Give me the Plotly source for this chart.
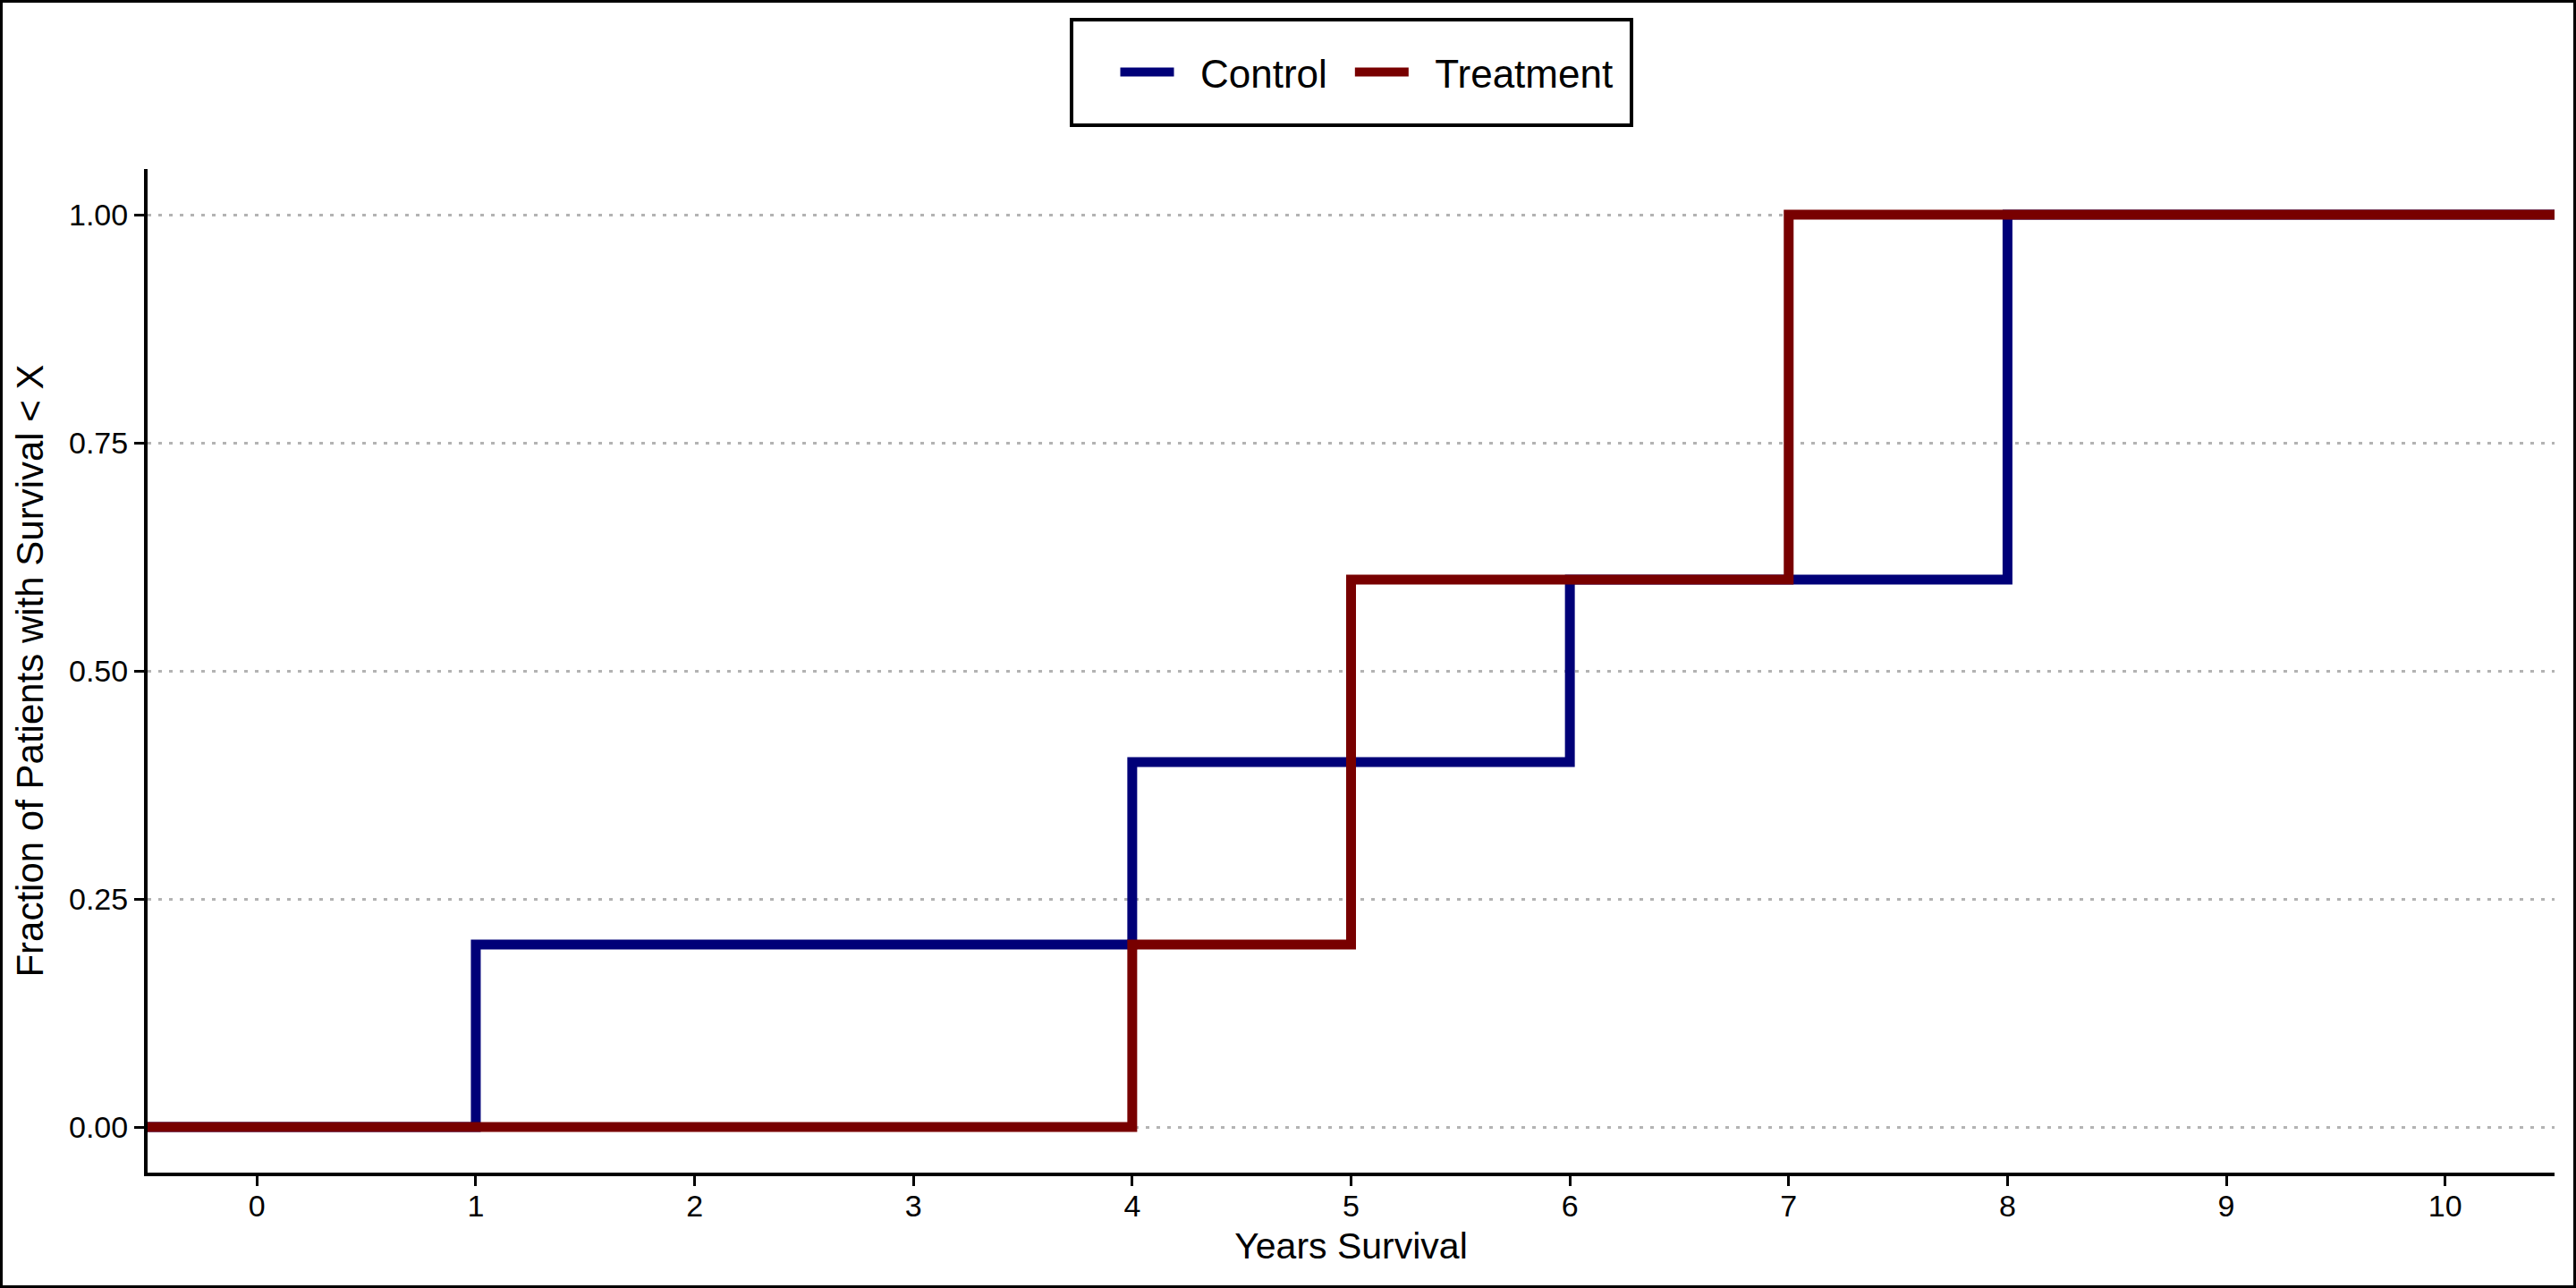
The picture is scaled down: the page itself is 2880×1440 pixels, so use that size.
import plotly.graph_objects as go

# ---- data ----
control_years = [-0.5, 1, 4, 6, 8, 10.5]
control_frac = [0.0, 0.2, 0.4, 0.6, 1.0, 1.0]
treatment_years = [-0.5, 4, 5, 7, 10.5]
treatment_frac = [0.0, 0.2, 0.6, 1.0, 1.0]
series_names = ["Control", "Treatment"]
x_ticks = list(range(0, 11))
y_ticks = [0.0, 0.25, 0.5, 0.75, 1.0]
y_tick_labels = ["0.00", "0.25", "0.50", "0.75", "1.00"]

W, H = 2880, 1440
ML, MR, MT, MB = 165, 24, 189, 129
PW, PH = W - ML - MR, H - MT - MB

FONT = "Liberation Sans, Arial, Helvetica, sans-serif"
BLUE = "#000078"
RED = "#780000"
NB = "\u00a0"

fig = go.Figure()
fig.add_trace(go.Scatter(x=control_years, y=control_frac, mode="lines",
                         line=dict(shape="hv", color=BLUE, width=11),
                         name=NB * 2 + series_names[0] + NB + "\u2009"))
fig.add_trace(go.Scatter(x=treatment_years, y=treatment_frac, mode="lines",
                         line=dict(shape="hv", color=RED, width=11),
                         name=NB * 2 + series_names[1]))

def px2paper_x(px):
    return (px - ML) / PW

def px2paper_y(py):
    return (H - MB - py) / PH

shapes = [
    # outer figure border
    dict(type="rect", xref="paper", yref="paper",
         x0=px2paper_x(1.5), x1=px2paper_x(W - 1.5),
         y0=px2paper_y(H - 1.5), y1=px2paper_y(1.5),
         line=dict(color="black", width=3), fillcolor="rgba(0,0,0,0)", layer="above"),
    # legend box
    dict(type="rect", xref="paper", yref="paper",
         x0=px2paper_x(1198), x1=px2paper_x(1824),
         y0=px2paper_y(140), y1=px2paper_y(22),
         line=dict(color="black", width=4), fillcolor="rgba(0,0,0,0)", layer="above"),
]

fig.update_layout(
    width=W, height=H,
    margin=dict(l=ML, r=MR, t=MT, b=MB),
    paper_bgcolor="white", plot_bgcolor="white",
    font=dict(family=FONT, color="black", size=33),
    showlegend=True,
    legend=dict(orientation="h", x=px2paper_x(1528), xanchor="center",
                y=px2paper_y(81), yanchor="middle",
                font=dict(size=44, family=FONT, color="black"),
                bgcolor="rgba(0,0,0,0)", borderwidth=0,
                itemwidth=60, traceorder="normal"),
    shapes=shapes,
    xaxis=dict(range=[-0.5, 10.5], tickvals=x_ticks, ticks="outside",
               ticklen=11, tickwidth=3, tickcolor="black",
               showline=True, linecolor="black", linewidth=4,
               showgrid=False, zeroline=False, ticklabelstandoff=-7,
               tickfont=dict(size=34, family=FONT, color="black"),
               title=dict(text="Years Survival", standoff=14,
                          font=dict(size=41, family=FONT, color="black"))),
    yaxis=dict(range=[-0.05, 1.05], tickvals=y_ticks, ticktext=y_tick_labels,
               ticks="outside", ticklen=11, tickwidth=3, tickcolor="black",
               showline=True, linecolor="black", linewidth=4,
               showgrid=True, gridcolor="#b3b3b3", gridwidth=3,
               griddash="4px,8px", zeroline=False,
               tickfont=dict(size=34, family=FONT, color="black"),
               title=dict(text="Fraction of Patients with Survival < X", standoff=16,
                          font=dict(size=42, family=FONT, color="black"))),
)

fig.write_html(
    "out.html",
    config={"displayModeBar": False},
    post_script="document.body.style.margin='0';document.body.style.overflow='hidden';",
)
